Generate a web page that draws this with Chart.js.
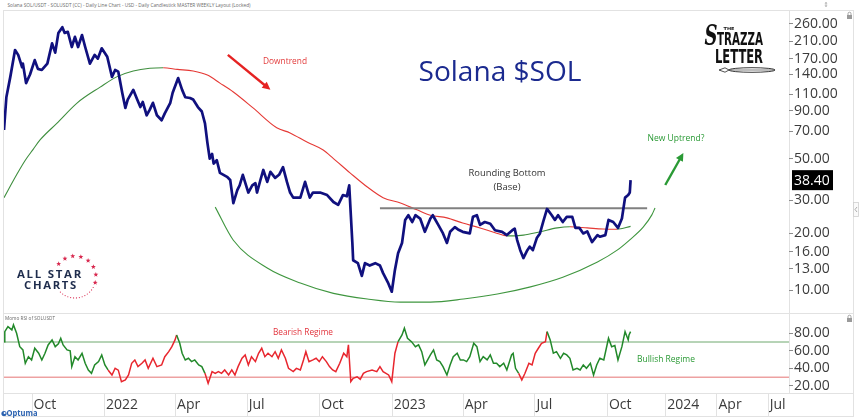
<!DOCTYPE html>
<html>
<head>
<meta charset="utf-8">
<script src="https://cdn.jsdelivr.net/npm/chart.js"></script>
<style>
  body { margin: 0; background: #fff; width: 860px; height: 420px; position: relative; overflow: hidden; font-family: 'Open Sans', sans-serif; }
  .t { position: absolute; white-space: nowrap; line-height: 1; }
  .box { position: absolute; }
  .hl { position: absolute; height: 1px; background: #e2e2e2; }
  .vl { position: absolute; width: 1px; background: #e2e2e2; }
  #deco { position: absolute; left: 0; top: 0; pointer-events: none; }
</style>
</head>
<body>

<div class="hl" style="left:3px;top:10px;width:851px"></div>
<div class="hl" style="left:3px;top:313px;width:851px"></div>
<div class="hl" style="left:3px;top:393px;width:851px"></div>
<div class="hl" style="left:3px;top:416px;width:851px"></div>
<div class="vl" style="left:3px;top:10px;height:407px"></div>
<div class="vl" style="left:853px;top:10px;height:407px"></div>
<div class="vl" style="left:789px;top:10px;height:383px"></div>

<div class="box" style="left:0;top:10px;width:860px;height:303px"><canvas id="priceChart"></canvas></div>
<div class="box" style="left:0;top:313px;width:860px;height:103px"><canvas id="rsiChart"></canvas></div>

<div class="t" data-x="128.5" data-y="5" data-w="243" style="font-size:6px;color:#6a6a6a">Solana SOL/USDT - SOLUSDT (CC) - Daily Line Chart - USD - Daily Candlestick MASTER WEEKLY Layout (Locked)</div>
<div class="t" data-x="30" data-y="318" data-w="50" style="font-size:5px;color:#6a6a6a">Momo RSI of SOLUSDT</div>
<div class="t" data-x="500" data-y="70" data-w="163" style="font-size:28px;color:#1b2a8f">Solana $SOL</div>
<div class="t" data-x="285" data-y="61" data-w="44" style="font-size:8.6px;color:#e23a3a">Downtrend</div>
<div class="t" data-x="506.5" data-y="172" data-w="77" style="font-size:9px;color:#333">Rounding Bottom</div>
<div class="t" data-x="507" data-y="186" data-w="27" style="font-size:9px;color:#333">(Base)</div>
<div class="t" data-x="675.5" data-y="138" data-w="57" style="font-size:8.5px;color:#2a9a35">New Uptrend?</div>
<div class="t" data-x="303" data-y="332" data-w="60" style="font-size:8.4px;color:#e2343d">Bearish Regime</div>
<div class="t" data-x="666" data-y="359" data-w="58" style="font-size:8.4px;color:#2a9a35">Bullish Regime</div>

<div class="t" data-x="50" data-y="274" data-w="66" style="font-size:10px;font-weight:bold;letter-spacing:1.5px;color:#1f2d4d">ALL STAR</div>
<div class="t" data-x="51" data-y="285" data-w="54" style="font-size:10px;font-weight:bold;letter-spacing:1.5px;color:#1f2d4d">CHARTS</div>
<div class="t" data-x="22" data-y="413" data-w="31" style="font-size:8px;font-weight:bold;color:#2b62b0">Optuma</div>

<div class="t" data-x="710.5" data-y="35" data-w="13" style="font:italic bold 28px 'DejaVu Serif';color:#111">S</div>
<div class="t" data-x="729" data-y="28" data-w="11" style="font:bold 4px 'DejaVu Sans';color:#111">THE</div>
<div class="t" data-x="740" data-y="39" data-w="46" style="font:bold 17px 'DejaVu Sans Condensed';color:#111">TRAZZA</div>
<div class="t" data-x="739" data-y="55.5" data-w="48" style="font:bold 20px 'DejaVu Sans Condensed';color:#111">LETTER</div>

<svg id="deco" width="860" height="420"></svg>

<script>
// ---- data ----
// day 0 = 2021-08-27; after the last bar the axis runs on weekdays (Optuma future space)
const startDate = '2021-08-27';
const lastDay = 795;

const priceDays = [0,3,8,14,18,23,24,28,33,39,43,48,55,61,65,69,74,77,81,86,90,94,99,103,109,115,119,124,131,137,141,145,150,154,157,164,169,173,176,181,185,189,194,200,204,211,214,221,226,230,236,240,246,251,255,258,261,264,266,270,274,283,287,291,296,299,303,310,315,319,321,325,329,334,338,344,349,354,359,363,367,376,382,386,388,392,401,410,418,424,430,435,438,442,443,449,454,458,464,471,477,481,487,492,496,500,505,509,513,518,522,528,534,541,544,551,557,562,566,572,576,582,591,595,600,604,610,617,623,632,638,645,648,651,655,659,664,667,671,676,680,684,689,695,699,703,709,714,721,725,730,735,740,746,753,756,763,767,773,779,784,788,792,794,795];
const priceValues = [71,106,136,189,178,153,160,126,140,167,150,148,160,205,183,233,250,233,236,196,222,196,227,196,160,178,170,193,174,136,148,145,112,93,103,116,103,94,100,85,91,99,85,80,87,99,112,134,116,106,105,103,94,89,77,61,50,53,47,49,42,40,38.5,29,34,36,41,33,36,37,33,38,43.5,37.6,42.5,39.5,41,45,37.6,33,31,31,37.6,33,31,33,33,32,29.4,28.4,32,31.5,36,17.8,14.4,13.9,11.9,13.9,13.5,13.9,13.5,12.3,11,9.8,12.8,15.7,17.8,23.6,25,23,25,24,20.4,24,25,22.2,20,17.8,20.4,21.6,21,20.4,20,24.5,25,22.2,23,22.5,20.8,20.4,19.6,20.8,21.2,18.5,16.3,14.8,16.3,17,16.3,18.9,20,23,27,25,23.6,25,23,24.5,24.5,21.4,21.4,20,20.5,18,19.6,19.2,19.6,23.6,23,21.4,24,31,32,33,38.4];

const maDays = [0,16,27,37,46,67,93,122,143,164,185,202,220,240,258,274,291,316,346,363,385,405,418,439,461,481,503,524,541,562,582,604,626,638,659,680,702,718,740,760,778,795];
const maValues = [31,41,49,56,63,77,99,120,136,146,151,152,149,146,139,126,113,93,73,68.5,61,55.5,50,42,35.3,31,29,26.7,25,24.2,22.7,21.4,20,19.4,19.6,20.4,21.4,21.7,21.4,21.1,21.05,21.8];

const rsiDays = [0,1,5,10,12,16,20,24,27,31,35,39,44,48,52,56,61,65,69,72,75,80,84,86,90,94,99,103,107,111,115,120,124,128,132,137,141,145,149,154,158,162,166,170,175,179,183,189,194,200,204,209,213,217,219,223,226,230,234,238,242,247,251,255,259,264,268,272,276,280,285,289,293,297,302,306,310,314,319,323,327,331,335,340,344,348,352,357,361,367,371,376,380,383,387,392,396,400,404,409,413,417,421,426,431,435,437,440,443,448,452,456,460,467,473,477,481,488,492,496,500,505,508,512,517,522,526,530,534,541,545,549,553,557,562,566,570,575,579,583,587,591,596,600,604,608,613,617,621,625,629,634,638,644,646,649,653,657,661,666,670,674,678,682,687,689,693,697,701,706,710,714,718,722,727,731,735,739,744,748,752,756,761,767,771,775,779,784,788,792,793,795];
const rsiValues = [70.4,81.8,87.5,83.8,89.5,80,64.7,61,45.8,53.3,49.6,62.9,57.2,49.6,57.2,66.7,72.4,64.7,68,74.3,66.7,61,60,42,53.3,49.6,57.2,45.8,38.2,34.4,43.9,47.7,55.3,43.9,38.2,32.5,40.1,38,24.9,26.8,32.5,45.8,49.6,42,45.8,49.6,40.1,51.5,42,43.9,53.3,59,64.7,72.4,78.1,68.6,57.2,49.6,51.5,47.7,49.6,43.9,42,34.4,23,36.3,34.4,36.3,34.4,38.2,32.5,38.2,32.5,42,51.5,55.3,43.9,53.3,47.7,57.2,62.9,53.3,57.2,53.3,59,51.5,61,51.5,40.1,36.3,40,38.2,49.6,59,47.7,49.6,51.5,47.7,53.3,47.7,42,38.2,36.3,45.8,57.2,53.3,66.7,24.9,28.7,30.5,27.6,34.4,36.3,38.2,36.3,42,36.3,32.5,24.9,57.2,70.4,78.1,85.7,74.3,70.4,64.7,66.7,59,43.9,55.3,61,49.6,47.7,42,32.5,43.9,53.3,57.2,49.6,49.6,47.7,53.3,68.6,64.7,47.7,53.3,49.6,55.3,45.8,45.8,42,45.8,38.2,55.3,57.2,40.1,34.4,26.8,34.4,45.8,43.9,57.2,62.9,68.6,70.4,81.8,72.4,57.2,59,51.5,57.2,55.3,51.5,38.2,40.1,38.2,43.9,40.1,45.8,32.5,43.9,51.5,49.6,74.3,64.7,66,49.6,64.7,81.8,72.4,78.1,81.8];

// regime of the RSI line: day where it starts, and which one
const regimeDays = [0,132,219,255,500,653,689];
const regimeNames = ['bull','bear','bull','bear','bull','bear','bull'];

// rounding bottom arc and neckline drawn on the price panel
const baseDays = [268,291,334,376,418,461,503,541,583,626,668,709,753,778,794,811,822,826];
const baseValues = [27.6,18.4,13.1,10.9,9.6,8.96,8.63,8.63,8.96,9.52,10.4,11.7,14.1,16.3,18.5,21.6,25.1,27.3];
const necklineDays = [477,816];
const necklineValue = 27.2;
const downArrow = [[284,178],[338,116]];
const upArrow = [[839,36.2],[862,53.6]];

const priceTicks = [10,13,16,20,30,50,70,90,110,140,170,210,260];
const rsiTicks = [20,40,60,80];
const rsiBands = [70,30];
const xTickDates = ['2021-10-01','2022-01-01','2022-04-01','2022-07-01','2022-10-01','2023-01-01','2023-04-01','2023-07-01','2023-10-01','2024-01-01','2024-04-01','2024-07-01'];
const xTickLabels = ['Oct','2022','Apr','Jul','Oct','2023','Apr','Jul','Oct','2024','Apr','Jul'];

// ---- helpers ----
const DAY = 86400000;
const t0 = Date.parse(startDate);
function dayIndex(s) {
  const d = Math.round((Date.parse(s) - t0) / DAY);
  if (d <= lastDay) return d;
  let n = lastDay;
  for (let i = lastDay + 1; i <= d; i++) {
    const wd = new Date(t0 + i * DAY).getUTCDay();
    if (wd !== 0 && wd !== 6) n++;
  }
  return n;
}
const pts = (days, vals) => days.map((d, i) => ({ x: d, y: vals[i] }));
function regimeAt(day) {
  let r = regimeNames[0];
  regimeDays.forEach((d, i) => { if (day >= d) r = regimeNames[i]; });
  return r;
}

const X_MAX = 996;
const NAVY = '#10107e';
const MA_GREEN = '#3e8e3e', MA_RED = '#e53935';
const RSI_GREEN = '#22892a', RSI_RED = '#e8262e';

Chart.defaults.font.family = "'Open Sans', sans-serif";
Chart.defaults.font.size = 14;
Chart.defaults.color = '#3b3b3b';
Chart.defaults.animation = false;

function drawArrow(ctx, x1, y1, x2, y2, color) {
  const a = Math.atan2(y2 - y1, x2 - x1), L = 8, W = 4;
  ctx.save();
  ctx.strokeStyle = color; ctx.fillStyle = color; ctx.lineWidth = 2.4;
  ctx.beginPath();
  ctx.moveTo(x1, y1);
  ctx.lineTo(x2 - L * 0.8 * Math.cos(a), y2 - L * 0.8 * Math.sin(a));
  ctx.stroke();
  ctx.beginPath();
  ctx.moveTo(x2, y2);
  ctx.lineTo(x2 - L * Math.cos(a) + W * Math.sin(a), y2 - L * Math.sin(a) - W * Math.cos(a));
  ctx.lineTo(x2 - L * Math.cos(a) - W * Math.sin(a), y2 - L * Math.sin(a) + W * Math.cos(a));
  ctx.closePath();
  ctx.fill();
  ctx.restore();
}

const arrowsPlugin = {
  id: 'arrows',
  afterDatasetsDraw(chart) {
    const { ctx, scales: { x, y } } = chart;
    const px = p => [x.getPixelForValue(p[0]), y.getPixelForValue(p[1])];
    const [a1, a2] = downArrow.map(px);
    drawArrow(ctx, a1[0], a1[1], a2[0], a2[1], '#e52222');
    const [b1, b2] = upArrow.map(px);
    drawArrow(ctx, b1[0], b1[1], b2[0], b2[1], '#2a9a35');
  }
};

const lastPricePlugin = {
  id: 'lastPrice',
  afterDraw(chart) {
    const { ctx, chartArea, scales: { y } } = chart;
    const v = priceValues[priceValues.length - 1];
    const py = y.getPixelForValue(v);
    ctx.save();
    ctx.fillStyle = '#000';
    ctx.fillRect(chartArea.right + 3, py - 10, 41, 20);
    ctx.fillStyle = '#fff';
    ctx.font = "14px 'Open Sans'";
    ctx.textBaseline = 'middle';
    ctx.fillText(v.toFixed(2), chartArea.right + 5, py + 1);
    ctx.restore();
  }
};

const axisSeparators = {
  id: 'axisSeparators',
  afterDraw(chart) {
    const { ctx, chartArea, scales: { x } } = chart;
    ctx.save();
    ctx.strokeStyle = '#e2e2e2'; ctx.lineWidth = 1;
    x.ticks.forEach(t => {
      const px = Math.round(x.getPixelForValue(t.value)) + 0.5;
      ctx.beginPath(); ctx.moveTo(px, chartArea.bottom); ctx.lineTo(px, chart.height); ctx.stroke();
    });
    ctx.restore();
  }
};

// right axis: fixed width, and no extra room reserved for half labels at the ends
const rightAxisFit = s => { s.width = 64; s.paddingTop = 0; s.paddingBottom = 0; };

// ---- price panel ----
new Chart(document.getElementById('priceChart'), {
  type: 'line',
  data: {
    datasets: [
      { data: pts(priceDays, priceValues), borderColor: NAVY, borderWidth: 2.7, pointRadius: 0, tension: 0, borderJoinStyle: 'round' },
      { data: pts(necklineDays, necklineDays.map(() => necklineValue)), borderColor: '#808080', borderWidth: 2, pointRadius: 0 },
      { data: pts(maDays, maValues), borderColor: MA_GREEN, borderWidth: 1.1, pointRadius: 0, cubicInterpolationMode: 'monotone',
        segment: { borderColor: c => c.p1.parsed.y >= c.p0.parsed.y ? MA_GREEN : MA_RED } },
      { data: pts(baseDays, baseValues), borderColor: '#3f963f', borderWidth: 1.1, pointRadius: 0, cubicInterpolationMode: 'monotone' }
    ]
  },
  options: {
    responsive: true, maintainAspectRatio: false, events: [],
    layout: { padding: { left: 4, right: 7, top: 0, bottom: 0 } },
    plugins: { legend: { display: false }, tooltip: { enabled: false } },
    scales: {
      x: { type: 'linear', min: 0, max: X_MAX, display: false },
      y: {
        type: 'logarithmic', position: 'right', min: 7.55, max: 308.4,
        afterFit: rightAxisFit,
        afterBuildTicks: s => { s.ticks = priceTicks.map(v => ({ value: v })); },
        grid: { drawOnChartArea: false, tickLength: 4, color: '#8c8c8c' },
        border: { display: false },
        ticks: { autoSkip: false, padding: 1, callback: v => Number(v).toFixed(2) }
      }
    }
  },
  plugins: [arrowsPlugin, lastPricePlugin]
});

// ---- momentum panel ----
new Chart(document.getElementById('rsiChart'), {
  type: 'line',
  data: {
    datasets: [
      { data: pts(rsiDays, rsiValues), borderColor: RSI_GREEN, borderWidth: 1.5, pointRadius: 0, tension: 0,
        segment: { borderColor: c => regimeAt(rsiDays[c.p0DataIndex]) === 'bull' ? RSI_GREEN : RSI_RED } },
      { data: [{ x: 0, y: rsiBands[0] }, { x: X_MAX, y: rsiBands[0] }], borderColor: '#6fa86f', borderWidth: 1, pointRadius: 0 },
      { data: [{ x: 0, y: rsiBands[1] }, { x: X_MAX, y: rsiBands[1] }], borderColor: '#e57373', borderWidth: 1, pointRadius: 0 }
    ]
  },
  options: {
    responsive: true, maintainAspectRatio: false, events: [],
    layout: { padding: { left: 4, right: 7, top: 0, bottom: 0 } },
    plugins: { legend: { display: false }, tooltip: { enabled: false } },
    scales: {
      x: {
        type: 'linear', min: 0, max: X_MAX,
        afterBuildTicks: s => { s.ticks = xTickDates.map(d => ({ value: dayIndex(d) })); },
        afterFit: s => { s.height = 23; s.paddingLeft = 0; s.paddingRight = 0; },
        grid: { drawOnChartArea: false, drawTicks: false },
        border: { display: false },
        ticks: { autoSkip: false, maxRotation: 0, align: 'start', labelOffset: 2, padding: 4, callback: (v, i) => xTickLabels[i] }
      },
      y: {
        position: 'right', min: 12, max: 103,
        afterFit: rightAxisFit,
        afterBuildTicks: s => { s.ticks = rsiTicks.map(v => ({ value: v })); },
        grid: { drawOnChartArea: false, tickLength: 4, color: '#8c8c8c' },
        border: { display: false },
        ticks: { autoSkip: false, padding: 1, callback: v => Number(v).toFixed(2) }
      }
    }
  },
  plugins: [axisSeparators]
});

// ---- text placement ----
document.querySelectorAll('.t').forEach(el => {
  el.style.left = el.dataset.x + 'px';
  el.style.top = el.dataset.y + 'px';
  const k = el.dataset.w ? el.dataset.w / el.getBoundingClientRect().width : 1;
  el.style.transform = 'translate(-50%,-50%) scaleX(' + k + ')';
});

// ---- logos and small icons ----
const svg = document.getElementById('deco');
function add(tag, attrs) {
  const el = document.createElementNS('http://www.w3.org/2000/svg', tag);
  for (const k in attrs) el.setAttribute(k, attrs[k]);
  svg.appendChild(el);
  return el;
}
function starPath(cx, cy, ro, ri) {
  let d = '';
  for (let i = 0; i < 10; i++) {
    const r = i % 2 ? ri : ro, a = -Math.PI / 2 + i * Math.PI / 5;
    d += (i ? 'L' : 'M') + (cx + r * Math.cos(a)).toFixed(2) + ',' + (cy + r * Math.sin(a)).toFixed(2);
  }
  return d + 'Z';
}
for (let i = 0; i < 8; i++) {
  const a = (-141 + i * 22.4) * Math.PI / 180;
  add('path', { d: starPath(75 + 21 * Math.cos(a), 277 + 21 * Math.sin(a), 2.6, 1.1), fill: '#d8294f' });
}
for (let i = 0; i < 14; i++) {
  const a = (30 + i * 8) * Math.PI / 180;
  add('circle', { cx: 75 + 21 * Math.cos(a), cy: 277 + 21 * Math.sin(a), r: 0.6, fill: '#d8294f' });
}
// pen under the letter logo
add('path', { d: 'M719,70 L725,67.8 L729,70 L725,72.2 Z', fill: 'none', stroke: '#222', 'stroke-width': 0.8 });
add('ellipse', { cx: 752, cy: 70, rx: 23, ry: 2.3, fill: 'none', stroke: '#222', 'stroke-width': 0.9 });
add('line', { x1: 729, y1: 70, x2: 775, y2: 70, stroke: '#222', 'stroke-width': 0.6 });
// locks
function lock(x, y) {
  add('rect', { x: x, y: y + 3, width: 5, height: 4, fill: '#9a9a9a' });
  add('path', { d: 'M' + (x + 1) + ',' + (y + 3) + ' v-1.3 a1.5,1.5 0 0 1 3,0 v1.3', fill: 'none', stroke: '#9a9a9a', 'stroke-width': 0.9 });
}
lock(847, 12);
lock(847, 315);
// side tab
add('rect', { x: 853.5, y: 202.5, width: 5, height: 14, fill: '#fafafa', stroke: '#d0d0d0', 'stroke-width': 0.8 });
add('path', { d: 'M857,207 L855,209.5 L857,212', fill: 'none', stroke: '#999', 'stroke-width': 0.8 });
// small icon top right
add('path', { d: 'M826,2.5 v4 M824.8,3.5 L826,2.5 L827.2,3.5 M824.8,5.5 L826,6.5 L827.2,5.5', fill: 'none', stroke: '#888', 'stroke-width': 0.6 });
// optuma mark
add('circle', { cx: 4, cy: 413.5, r: 2.6, fill: '#2b62b0' });
add('circle', { cx: 4.6, cy: 413, r: 1, fill: '#fff' });
</script>
</body>
</html>
